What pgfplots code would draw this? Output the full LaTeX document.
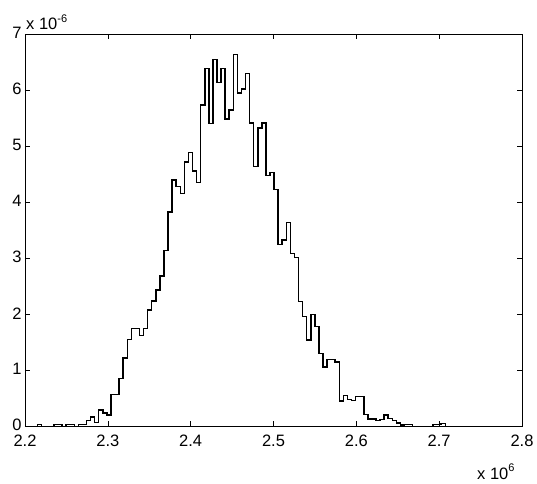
\documentclass[border=0pt]{standalone}
\usepackage{pgfplots}
\pgfplotsset{compat=1.18}
\usepackage{fontspec}
\setmainfont{Liberation Sans}
\begin{document}
\begin{tikzpicture}
\begin{axis}[
  at={(0pt,0pt)}, anchor=south west,
  scale only axis, width=497pt, height=392pt,
  xmin=2.2, xmax=2.8, ymin=0, ymax=7,
  xtick={2.2,2.3,2.4,2.5,2.6,2.7,2.8},
  ytick={0,1,2,3,4,5,6,7},
  tick pos=both, tick align=inside,
  major tick length=5pt,
  axis line style={black, line width=0.8pt},
  tick style={black, line width=0.6pt},
  /pgf/number format/assume math mode=true,
  tick label style={font=\fontsize{16.5}{19}\selectfont, text=black},
  xticklabel style={yshift=-5pt, /pgf/number format/fixed, /pgf/number format/fixed zerofill, /pgf/number format/precision=1},
  yticklabel style={yshift=1pt},
  scaled x ticks=false, scaled y ticks=false,
]
\addplot[const plot mark left, black, line width=1.5pt] coordinates {
(2.215200,0)
(2.215200,0.035) (2.220122,0) (2.225044,0) (2.229966,0) (2.234888,0.035)
(2.239810,0.035) (2.244732,0) (2.249654,0.035) (2.254576,0.035) (2.259498,0)
(2.264420,0.035) (2.269342,0.035) (2.274264,0.10) (2.279186,0.17) (2.284108,0.07)
(2.289030,0.29) (2.293952,0.24) (2.298874,0.20) (2.303796,0.57) (2.308718,0.57)
(2.313640,0.85) (2.318562,1.22) (2.323484,1.55) (2.328406,1.75) (2.333328,1.75)
(2.338250,1.62) (2.343172,1.75) (2.348094,2.08) (2.353016,2.24) (2.357938,2.43)
(2.362860,2.68) (2.367782,3.14) (2.372704,3.83) (2.377626,4.40) (2.382548,4.28)
(2.387470,4.16) (2.392392,4.72) (2.397314,4.89) (2.402236,4.56) (2.407158,4.35)
(2.412080,5.74) (2.417002,6.39) (2.421924,5.41) (2.426846,6.55) (2.431768,6.14)
(2.436690,6.39) (2.441612,5.49) (2.446534,5.65) (2.451456,6.64) (2.456378,5.95)
(2.461300,6.02) (2.466222,6.30) (2.471144,5.42) (2.476066,4.64) (2.480988,5.33)
(2.485910,5.42) (2.490832,4.48) (2.495754,4.53) (2.500676,4.23) (2.505598,3.25)
(2.510520,3.33) (2.515442,3.64) (2.520364,3.09) (2.525286,3.01) (2.530208,2.23)
(2.535130,1.96) (2.540052,1.54) (2.544974,2.00) (2.549896,1.78) (2.554818,1.30)
(2.559740,1.06) (2.564662,1.19) (2.569584,1.19) (2.574506,1.15) (2.579428,0.45)
(2.584350,0.55) (2.589272,0.48) (2.594194,0.46) (2.599116,0.53) (2.604038,0.53)
(2.608960,0.21) (2.613882,0.13) (2.618804,0.13) (2.623726,0.10) (2.628648,0.12)
(2.633570,0.20) (2.638492,0.14) (2.643414,0.10) (2.648336,0.06) (2.653258,0.02)
(2.658180,0.035) (2.663102,0.035) (2.668024,0) (2.672946,0) (2.677868,0)
(2.682790,0) (2.687712,0) (2.692634,0.035) (2.697556,0.035) (2.702478,0.05)
(2.707400,0)
};
\end{axis}
\node[anchor=base west, inner sep=0pt, font=\fontsize{16.5}{19}\selectfont] at (1pt,396.5pt) {x 10\raisebox{7pt}{\fontsize{11}{13}\selectfont -6}};
\node[anchor=base west, inner sep=0pt, font=\fontsize{16.5}{19}\selectfont] at (452pt,-53.5pt) {x 10\raisebox{8pt}{\fontsize{11}{13}\selectfont 6}};
\pgfresetboundingbox
\path (-25pt,-56.7pt) rectangle (512pt,426.3pt);
\end{tikzpicture}
\end{document}
